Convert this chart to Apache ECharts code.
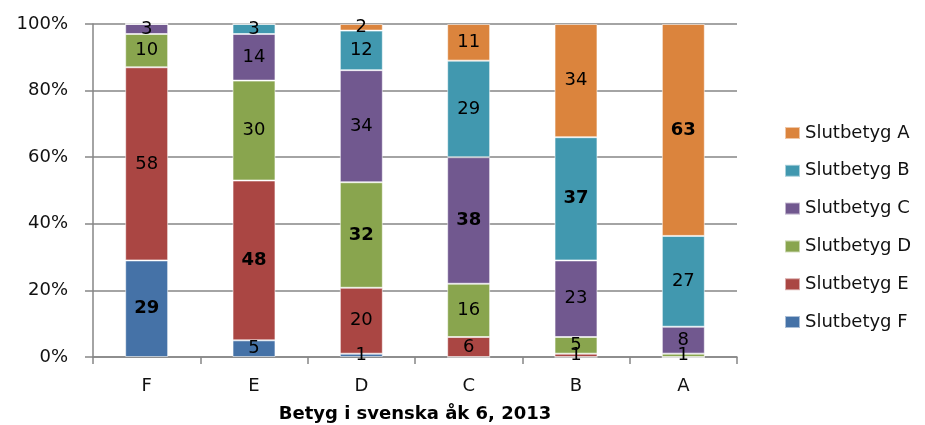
<!DOCTYPE html>
<html>
<head>
<meta charset="utf-8">
<script src="https://cdn.jsdelivr.net/npm/echarts@6/dist/echarts.min.js"></script>
<style>html,body{margin:0;padding:0;background:#fff}#c{width:925px;height:425px}</style>
</head>
<body>
<div id="c"></div>
<script>
var categories = ['F', 'E', 'D', 'C', 'B', 'A'];
var seriesNames = ['Slutbetyg F', 'Slutbetyg E', 'Slutbetyg D', 'Slutbetyg C', 'Slutbetyg B', 'Slutbetyg A'];
var valF = [29, 5, 1, 0, 0, 0];
var valE = [58, 48, 20, 6, 1, 0];
var valD = [10, 30, 32, 16, 5, 1];
var valC = [3, 14, 34, 38, 23, 8];
var valB = [0, 3, 12, 29, 37, 27];
var valA = [0, 0, 2, 11, 34, 63];
var yTicks = [0, 20, 40, 60, 80, 100];
var colors = ['#4572A7', '#AA4643', '#89A54E', '#71588F', '#4198AF', '#DB843D'];

var raw = [valF, valE, valD, valC, valB, valA];
var totals = categories.map(function (c, i) {
  return raw.reduce(function (s, arr) { return s + arr[i]; }, 0);
});
var FONT = 'DejaVu Sans';

var series = raw.map(function (arr, si) {
  return {
    name: seriesNames[si],
    type: 'bar',
    stack: 'total',
    barWidth: '40%',
    itemStyle: { color: colors[si], borderColor: 'rgba(255,255,255,0.55)', borderWidth: 1 },
    label: {
      show: true,
      position: 'inside',
      color: '#000',
      fontFamily: FONT,
      fontSize: 18,
      formatter: function (p) { var v = raw[p.seriesIndex][p.dataIndex]; return v ? String(v) : ''; }
    },
    data: arr.map(function (v, ci) {
      var item = { value: v / totals[ci] * 100 };
      if (si === ci) item.label = { fontWeight: 'bold' };
      return item;
    })
  };
});

var chart = echarts.init(document.getElementById('c'));
chart.setOption({
  animation: false,
  color: colors,
  grid: { left: 93, right: 188, top: 24, bottom: 68, containLabel: false, outerBoundsMode: 'none' },
  legend: {
    orient: 'vertical',
    left: 779,
    top: 119,
    itemWidth: 15,
    itemHeight: 12,
    itemGap: 19.8,
    icon: 'rect',
    data: seriesNames.slice().reverse(),
    textStyle: { fontFamily: FONT, fontSize: 18, color: '#111' }
  },
  xAxis: {
    type: 'category',
    data: categories,
    name: 'Betyg i svenska åk 6, 2013',
    nameLocation: 'middle',
    nameGap: 48,
    nameTextStyle: { fontFamily: FONT, fontSize: 18, fontWeight: 'bold', color: '#000' },
    axisLine: { lineStyle: { color: '#868686', width: 1.5 } },
    axisTick: { show: true, alignWithLabel: false, length: 7, lineStyle: { color: '#868686', width: 1.5 } },
    axisLabel: { fontFamily: FONT, fontSize: 18, color: '#111', margin: 20 }
  },
  yAxis: {
    type: 'value',
    min: yTicks[0],
    max: yTicks[yTicks.length - 1],
    interval: yTicks[1] - yTicks[0],
    axisLine: { show: true, lineStyle: { color: '#868686', width: 1.5 } },
    axisTick: { show: true, length: 8, lineStyle: { color: '#868686', width: 1.5 } },
    splitLine: { show: true, lineStyle: { color: '#868686', width: 1.5 } },
    axisLabel: { fontFamily: FONT, fontSize: 18, color: '#111', margin: 25, formatter: '{value}%' }
  },
  series: series
});
</script>
</body>
</html>
